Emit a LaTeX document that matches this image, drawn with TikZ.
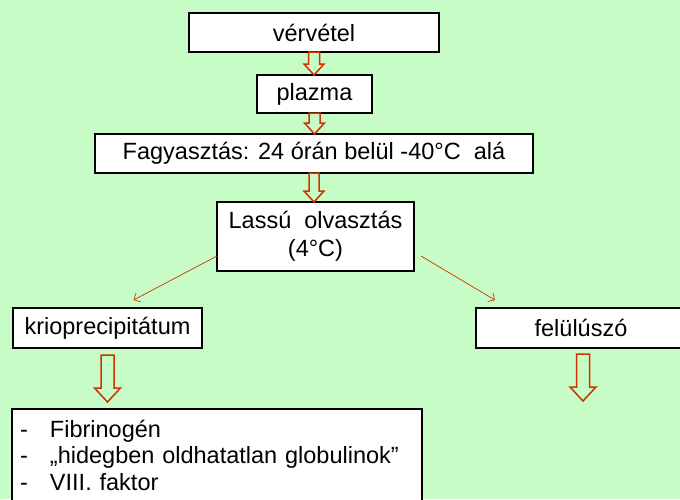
\documentclass[tikz,border=0pt]{standalone}
\usepackage{fontspec}
\setmainfont{Liberation Sans}
\usetikzlibrary{arrows.meta, calc, positioning}

\definecolor{bggreen}{RGB}{199,252,199}
\definecolor{arrowred}{RGB}{204,51,0}
\newcommand\boxfont{\fontsize{23.5}{28}\selectfont}
\newcommand\listfont{\fontsize{23.5}{26.5}\selectfont}

% hollow block arrow: start, tip, half shaft, half head, head length
\newcommand\blockarrow[5]{%
  \draw[blockarrow] let \p1=#1, \p2=#2 in
    (\x1-#3pt,\y1) -- (\x1+#3pt,\y1) -- (\x1+#3pt,\y2+#5pt)
    -- (\x1+#4pt,\y2+#5pt) -- (\x1,\y2) -- (\x1-#4pt,\y2+#5pt)
    -- (\x1-#3pt,\y2+#5pt) -- cycle;}

\begin{document}
\begin{tikzpicture}[x=1pt,y=-1pt,
  procbox/.style={draw, line width=1.4pt, fill=white, inner sep=0pt,
    outer sep=0pt, font=\boxfont, align=center},
  split/.style={draw=arrowred, line width=0.7pt,
    -{Straight Barb[length=5pt,width=10pt]}},
  blockarrow/.style={draw=arrowred, line width=1.5pt}]

  \useasboundingbox (0,0) rectangle (680,499);
  \clip (0,0) rectangle (680,499);
  \fill[bggreen] (0,0) rectangle (680,499);

  \node[procbox, minimum width=250, minimum height=39] (verv)  at (314,32.5)  {vérvétel};
  \node[procbox, minimum width=115, minimum height=38] (plaz)  at (314.5,94)  {plazma};
  \node[procbox, minimum width=438, minimum height=39] (fagy)  at (314,153.5) {Fagyasztás: 24 órán belül -40°C~~alá};
  \node[procbox, minimum width=197, minimum height=69] (lassu) at (315.5,236.5) {Lassú~~olvasztás\\(4°C)};
  \node[procbox, minimum width=189, minimum height=40] (kriop) at (107.5,328) {krioprecipitátum};
  \node[procbox, minimum width=210, minimum height=40] (felul) at (581,328)   {felülúszó};
  \node[procbox, anchor=north west, text width=394pt, inner xsep=8pt,
        minimum height=92, align=left, font=\listfont] (list) at (12,409)
    {\makebox[30pt][l]{-}Fibrinogén\\
     \makebox[30pt][l]{-}„hidegben oldhatatlan globulinok”\\
     \makebox[30pt][l]{-}VIII. faktor};
  \coordinate (felulend) at (583,401);

  \blockarrow{(verv.south)}{(plaz.north)}{5.5}{10}{11}
  \blockarrow{(plaz.south)}{(fagy.north)}{5.5}{10}{11}
  \blockarrow{(fagy.south)}{(lassu.north)}{5}{10}{11}
  \blockarrow{([yshift=-7pt]kriop.south)}{([yshift=7pt]list.north)}{6.5}{13}{14}
  \blockarrow{([xshift=2pt,yshift=-6pt]felul.south)}{(felulend)}{6.5}{13}{14}

  \draw[split] ([yshift=15pt]lassu.south west) -- ([xshift=26pt,yshift=8pt]kriop.north);
  \draw[split] ([xshift=7pt,yshift=15pt]lassu.south east) -- ([xshift=19pt,yshift=8pt]felul.north west);
\end{tikzpicture}
\end{document}
